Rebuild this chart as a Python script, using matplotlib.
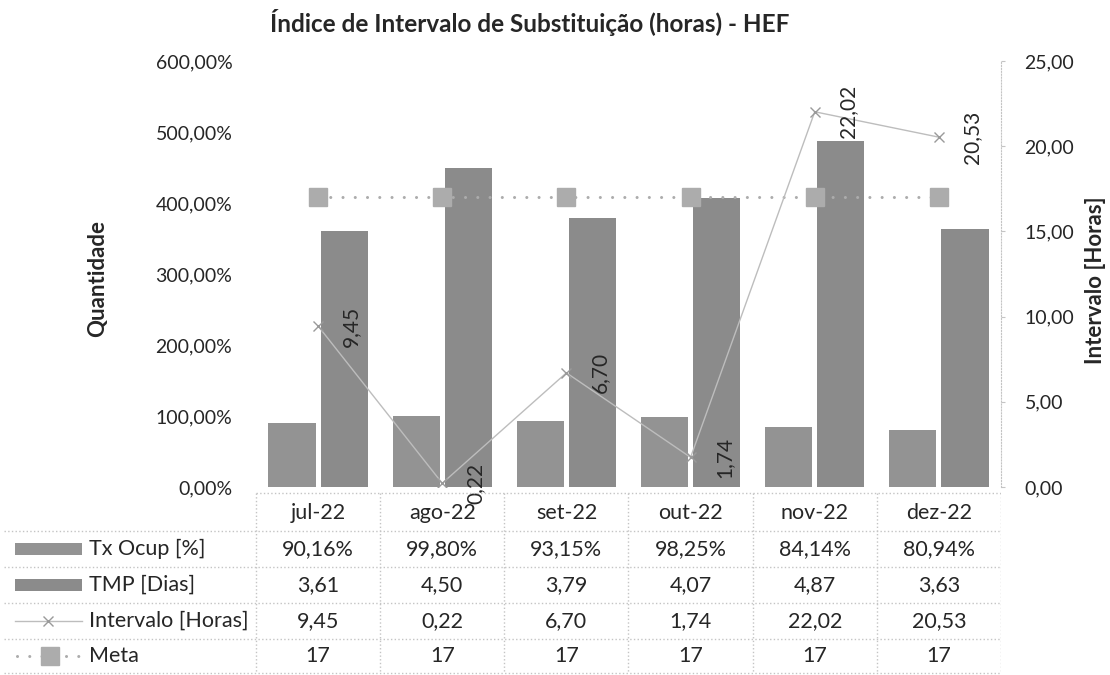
import numpy as np
import matplotlib
matplotlib.use("Agg")
import matplotlib.pyplot as plt
from matplotlib.ticker import FuncFormatter
from matplotlib.patches import Rectangle

meses = ["jul-22", "ago-22", "set-22", "out-22", "nov-22", "dez-22"]
tx_ocup = [0.9016, 0.9980, 0.9315, 0.9825, 0.8414, 0.8094]
tmp_dias = [3.61, 4.50, 3.79, 4.07, 4.87, 3.63]
intervalo = [9.45, 0.22, 6.70, 1.74, 22.02, 20.53]
meta = [17, 17, 17, 17, 17, 17]

plt.rcParams["font.family"] = ["Lato", "DejaVu Sans"]
TXT = "#262626"
GRID = "#c4c4c4"
C_TX = "#939393"
C_TMP = "#8b8b8b"
C_INT = "#bdbdbd"
C_META = "#acacac"


def br(v, dec=2):
    return f"{v:.{dec}f}".replace(".", ",")


W, H = 1110, 675
fig = plt.figure(figsize=(W / 100, H / 100), dpi=100)


def fx(px):
    return px / W


def fy(py):
    return 1 - py / H


# main plot area (pixels: x 256..1001, y 61..487)
ax = fig.add_axes([fx(256), fy(487), fx(1001) - fx(256), fy(61) - fy(487)])
x = np.arange(len(meses))
ax.bar(x - 0.21, tx_ocup, 0.38, color=C_TX, zorder=2)
ax.bar(x + 0.21, tmp_dias, 0.38, color=C_TMP, zorder=2)
ax.set_xlim(-0.5, 5.5)
ax.set_ylim(0, 6)
ax.set_yticks(np.arange(0, 7, 1))
ax.yaxis.set_major_formatter(FuncFormatter(lambda v, p: br(v * 100) + "%"))
ax.set_xticks([])
for s in ax.spines.values():
    s.set_visible(False)
ax.tick_params(axis="y", length=0, pad=17, labelsize=14, labelcolor=TXT)

ax2 = ax.twinx()
ax2.set_ylim(0, 25)
ax2.set_yticks(np.arange(0, 26, 5))
ax2.yaxis.set_major_formatter(FuncFormatter(lambda v, p: br(v)))
for k in ["top", "bottom", "left"]:
    ax2.spines[k].set_visible(False)
ax2.spines["right"].set_color(GRID)
ax2.spines["right"].set_linestyle(":")
ax2.tick_params(axis="y", length=3, color=GRID, pad=14, labelsize=14, labelcolor=TXT)

# Meta
ax2.plot(x, meta, color=C_META, lw=2.2, linestyle=(0, (0.01, 4.0)),
         dash_capstyle="round", zorder=3)
ax2.plot(x, meta, linestyle="none", marker="s", ms=13, color=C_META, zorder=4)

# Intervalo
ax2.plot(x, intervalo, color=C_INT, lw=1, marker="x", ms=7,
         mec="#9a9a9a", mew=1, zorder=5)
for xi, v in zip(x, intervalo):
    ax2.annotate(br(v), (xi, v), xytext=(24, 0), textcoords="offset points",
                 rotation=90, ha="center", va="center", fontsize=15,
                 color=TXT, zorder=6)

fig.text(fx(530), fy(23), "Índice de Intervalo de Substituição (horas) - HEF",
         ha="center", va="center", fontsize=17.5, fontweight="bold", color=TXT)
fig.text(fx(98), fy(278), "Quantidade", rotation=90, ha="center", va="center",
         fontsize=16, fontweight="bold", color=TXT)
fig.text(fx(1096), fy(280), "Intervalo [Horas]", rotation=90, ha="center",
         va="center", fontsize=16, fontweight="bold", color=TXT)

# data table below the plot
tab = fig.add_axes([0, fy(675), fx(1001), fy(487) - fy(675)])
unit = 745 / 6
x0 = -0.5 - 256 / unit
tab.set_xlim(x0, 5.5)
tab.set_ylim(188, 0)
tab.axis("off")


def px(p):
    return x0 + p / unit


bounds = [6, 44, 80, 116, 152, 186]
centers = [26, 62, 98, 134, 169]
tab.plot([-0.5, 5.5], [bounds[0], bounds[0]], color=GRID, lw=1, ls=":")
for b in bounds[1:]:
    tab.plot([px(4), 5.5], [b, b], color=GRID, lw=1, ls=":")
for c in np.arange(-0.5, 6, 1):
    tab.plot([c, c], [bounds[0], bounds[-1]], color=GRID, lw=1, ls=":")

FS = 15.5
for i, m in enumerate(meses):
    tab.text(i, centers[0], m, ha="center", va="center", fontsize=FS, color=TXT)
    tab.text(i, centers[1], br(tx_ocup[i] * 100) + "%", ha="center", va="center",
             fontsize=FS, color=TXT)
    tab.text(i, centers[2], br(tmp_dias[i]), ha="center", va="center",
             fontsize=FS, color=TXT)
    tab.text(i, centers[3], br(intervalo[i]), ha="center", va="center",
             fontsize=FS, color=TXT)
    tab.text(i, centers[4], str(meta[i]), ha="center", va="center",
             fontsize=FS, color=TXT)

row_names = ["Tx Ocup [%]", "TMP [Dias]", "Intervalo [Horas]", "Meta"]
for name, c in zip(row_names, centers[1:]):
    tab.text(px(89), c, name, ha="left", va="center", fontsize=FS, color=TXT)

# legend keys
tab.add_patch(Rectangle((px(15), centers[1] - 6), px(82) - px(15), 12,
                        color=C_TX, lw=0))
tab.add_patch(Rectangle((px(15), centers[2] - 6), px(82) - px(15), 12,
                        color=C_TMP, lw=0))
tab.plot([px(15), px(82)], [centers[3]] * 2, color=C_INT, lw=1)
tab.plot([px(48)], [centers[3]], marker="x", ms=7, mec="#9a9a9a", ls="none")
tab.plot([px(17), px(80)], [centers[4]] * 2, color=C_META, lw=2.2,
         linestyle=(0, (0.01, 4.0)), dash_capstyle="round")
tab.plot([px(50)], [centers[4]], marker="s", ms=13, color=C_META, ls="none")

fig.savefig("out.png", dpi=100, facecolor="white")
